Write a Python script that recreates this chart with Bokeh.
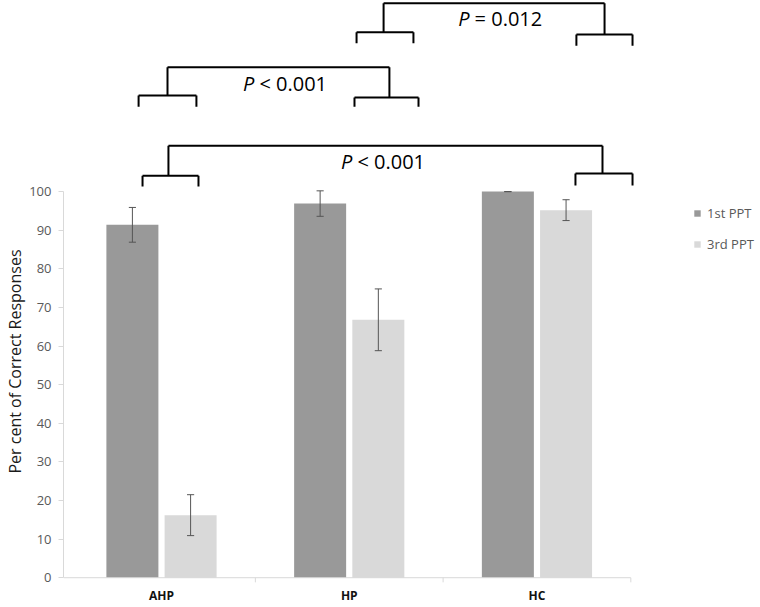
from bokeh.plotting import figure
from bokeh.models import Range1d, FixedTicker, Legend, LegendItem, ColumnDataSource, Title
from bokeh.core.properties import value
from bokeh.embed import file_html
from bokeh.resources import INLINE

# ---------------- data ----------------
categories = ["AHP", "HP", "HC"]
series_names = ["1st PPT", "3rd PPT"]
first_ppt = [91.4, 96.9, 100.0]
first_err = [4.5, 3.3, 0.0]
third_ppt = [16.2, 66.8, 95.2]
third_err = [5.3, 8.0, 2.7]
y_ticks = [0, 10, 20, 30, 40, 50, 60, 70, 80, 90, 100]
y_title = "Per cent of Correct Responses"

# significance brackets (bottom, middle, top)
bracket_p = ["P", "P", "P"]
bracket_rest = ["< 0.001", "< 0.001", "= 0.012"]
bracket_main_y = [111.9, 132.2, 148.8]
bracket_left_sub_y = [104.1, 124.9, 141.3]
bracket_right_sub_y = [104.7, 124.4, 140.7]
bracket_left_leg_y = [101.3, 122.0, 138.4]
bracket_right_leg_y = [101.6, 122.0, 137.8]
bracket_left_span = [(0.399, 0.697), (0.378, 0.686), (1.539, 1.842)]
bracket_left_x = [0.537, 0.532, 1.683]
bracket_right_span = [(2.705, 3.009), (1.528, 1.869), (2.710, 3.009)]
bracket_right_x = [2.849, 1.714, 2.860]
bracket_text_x = [1.517, 0.995, 2.141]
bracket_text_y = [107.8, 128.0, 144.8]

FONT = "Open Sans"
DARK = "#999999"
LIGHT = "#d9d9d9"
AXIS = "#d9d9d9"

bar_w = 0.277
off = 0.155
cap = 0.019

p = figure(width=758, height=607,
           x_range=Range1d(-0.022, 3.680), y_range=Range1d(-1.5, 149.5),
           output_backend="svg", toolbar_location=None,
           min_border_left=63, min_border_right=0, min_border_top=0,
           min_border_bottom=24)
p.grid.visible = False
p.outline_line_color = None
p.background_fill_color = "white"

centers = [i + 0.5 for i in range(len(categories))]
x1 = [c - off for c in centers]
x3 = [c + off for c in centers]

r1 = p.vbar(x=x1, top=first_ppt, bottom=0, width=bar_w, fill_color=DARK, line_color=None)
r3 = p.vbar(x=x3, top=third_ppt, bottom=0, width=bar_w, fill_color=LIGHT, line_color=None)

# error bars
for xs, vals, errs in ((x1, first_ppt, first_err), (x3, third_ppt, third_err)):
    lo = [v - e for v, e in zip(vals, errs)]
    hi = [v + e for v, e in zip(vals, errs)]
    p.segment(x0=xs, y0=lo, x1=xs, y1=hi, line_color="#555555", line_width=1)
    p.segment(x0=[x - cap for x in xs], y0=lo, x1=[x + cap for x in xs], y1=lo,
              line_color="#555555", line_width=1)
    p.segment(x0=[x - cap for x in xs], y0=hi, x1=[x + cap for x in xs], y1=hi,
              line_color="#555555", line_width=1)

# x axis line and category boundary ticks
n = len(categories)
p.segment(x0=[-0.022], y0=[0], x1=[n], y1=[0], line_color=AXIS, line_width=1)
p.segment(x0=list(range(1, n + 1)), y0=[0] * n, x1=list(range(1, n + 1)), y1=[-1.2] * n,
          line_color=AXIS, line_width=1)

# brackets
segs = dict(x0=[], y0=[], x1=[], y1=[])
def add(a, b, c, d):
    segs["x0"].append(a); segs["y0"].append(b); segs["x1"].append(c); segs["y1"].append(d)

for i in range(len(bracket_main_y)):
    my = bracket_main_y[i]
    lx = bracket_left_x[i]; rx = bracket_right_x[i]
    add(lx, my, rx, my)
    add(lx, my, lx, bracket_left_sub_y[i])
    add(rx, my, rx, bracket_right_sub_y[i])
    l0, l1 = bracket_left_span[i]
    add(l0, bracket_left_sub_y[i], l1, bracket_left_sub_y[i])
    add(l0, bracket_left_sub_y[i], l0, bracket_left_leg_y[i])
    add(l1, bracket_left_sub_y[i], l1, bracket_left_leg_y[i])
    r0, r1b = bracket_right_span[i]
    add(r0, bracket_right_sub_y[i], r1b, bracket_right_sub_y[i])
    add(r0, bracket_right_sub_y[i], r0, bracket_right_leg_y[i])
    add(r1b, bracket_right_sub_y[i], r1b, bracket_right_leg_y[i])
p.segment(source=ColumnDataSource(segs), x0="x0", y0="y0", x1="x1", y1="y1",
          line_color="black", line_width=2)

p.text(x=bracket_text_x, y=bracket_text_y, text=bracket_p, text_font=value(FONT),
       text_font_style="italic", text_font_size="20px", text_align="right",
       text_baseline="middle", text_color="black")
p.text(x=bracket_text_x, y=bracket_text_y, text=bracket_rest, text_font=value(FONT),
       text_font_size="20px", text_align="left", text_baseline="middle", text_color="black",
       x_offset=5)

# axes
xa = p.xaxis[0]
xa.ticker = FixedTicker(ticks=centers)
xa.major_label_overrides = {c: name for c, name in zip(centers, categories)}
xa.axis_line_color = None
xa.major_tick_line_color = None
xa.major_tick_out = 0
xa.major_tick_in = 0
xa.minor_tick_line_color = None
xa.minor_tick_out = 0
xa.major_label_standoff = 3
xa.major_label_text_font = FONT
xa.major_label_text_font_style = "bold"
xa.major_label_text_font_size = "12px"
xa.major_label_text_color = "#111111"

ya = p.yaxis[0]
ya.ticker = FixedTicker(ticks=y_ticks)
ya.bounds = (0, 100)
ya.axis_line_color = AXIS
ya.major_tick_line_color = AXIS
ya.minor_tick_line_color = None
ya.major_tick_out = 5
ya.major_tick_in = 0
ya.major_label_standoff = 7
ya.major_label_text_font = FONT
ya.major_label_text_font_size = "13px"
ya.major_label_text_color = "#595959"

# y-axis title as a side title, positioned like the reference
p.add_layout(Title(text=y_title, align="left", offset=110, vertical_align="middle",
                   text_font=FONT, text_font_size="16px", text_font_style="normal",
                   text_color="#1a1a1a", standoff=0), "left")

legend = Legend(items=[LegendItem(label=series_names[0], renderers=[r1]),
                       LegendItem(label=series_names[1], renderers=[r3])],
                location=(630, 330), padding=0, margin=0, spacing=13,
                glyph_width=8, glyph_height=8, label_height=16, label_standoff=6,
                label_text_font=FONT, label_text_font_size="13px",
                label_text_color="#595959", border_line_color=None,
                background_fill_alpha=0)
p.add_layout(legend, "center")

open("out.html", "w").write(file_html(p, INLINE))
